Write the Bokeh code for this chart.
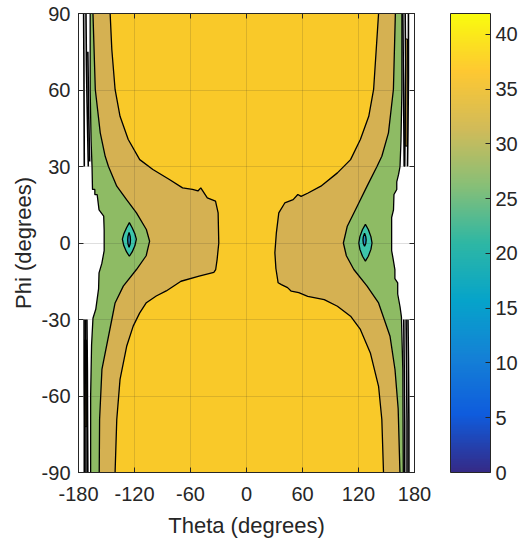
import numpy as np
from bokeh.plotting import figure
from bokeh.models import ColorBar, LinearColorMapper, LinearAxis, FixedTicker, Range1d
from bokeh.embed import file_html
from bokeh.resources import INLINE

# ---------------- data ----------------
theta_ticks = [-180, -120, -60, 0, 60, 120, 180]
phi_ticks = [-90, -60, -30, 0, 30, 60, 90]
cbar_ticks = [0, 5, 10, 15, 20, 25, 30, 35, 40]
c_low, c_high = 0.0, 41.9

# level 35 contour (yellow / tan), right branch, top -> bottom
l35_right_theta = [141.5, 139, 136.2, 131, 122, 111.5, 97.4, 79.7, 66, 58.5, 55, 50, 41, 34.6, 32, 30.4,
                   31.5, 33.9, 37.4, 44, 48, 56, 65.6, 83.3, 97.4, 111.5, 122, 132.7, 141.5, 145, 146.8]
l35_right_phi = [90, 75.9, 60.2, 49.7, 40.6, 32.7, 27.5, 22.3, 19.6, 18.3, 19.0, 17.0, 15.7, 11.8, 4, -3.8,
                 -10, -15.6, -16.3, -17.5, -18.9, -19.5, -20.9, -22.2, -24.8, -28.7, -33.9, -43.1, -56.2, -69.2, -90]
# level 35 contour, left branch, top -> bottom
l35_left_theta = [-146.1, -144.3, -140.8, -135.5, -126.7, -114.4, -100.3, -82.6, -68.5, -57.9, -52, -49, -42,
                  -33.2, -30.4, -29.7, -31.5, -33, -35, -50.8, -70.2, -86, -96.7, -107.3, -114.4, -121.4,
                  -128.4, -135.5, -139, -140.8]
l35_left_phi = [90, 75.9, 60.2, 49.7, 40.6, 32.7, 28.8, 24.9, 21.6, 21.0, 20.4, 21.6, 17.7,
                16.4, 11.8, 0, -6.5, -10.4, -11.5, -13, -15, -18.8, -20.8, -23.4, -27.4, -32.6,
                -40.5, -53.5, -69.2, -90]

# level 30 contour (tan / green)
l30_right_theta = [159.5, 157.4, 152.1, 145, 139.8, 129.2, 118.6, 108, 103.8, 107, 115, 129.2, 141.5,
                   153.8, 159.1, 162.5, 164.4]
l30_right_phi = [90, 60.2, 43.2, 34, 30, 22.3, 14.4, 6.6, 0, -5, -10.4, -16.9, -23.5,
                 -36.6, -49.6, -65, -90]
l30_left_theta = [-164.5, -162, -156.7, -151.4, -147.9, -139, -128.5, -117.9, -107.3, -103.8, -107.5,
                  -117.9, -132, -140.8, -144.3, -154.9, -157.4, -157.8]
l30_left_phi = [90, 60.2, 43.2, 34, 30, 22.3, 17, 11.8, 5.3, 0.7, -5,
                -10.4, -16.9, -23.5, -30, -49.6, -69.2, -90]

# level 25 outer edge of the data (green / blank), top -> bottom
l25_left_theta = [-167.5, -167.5, -166.5, -165.5, -165, -162.5, -162.5, -160, -158, -153, -152.5,
                  -152.5, -155, -158, -158.5, -161.5, -164.5, -166, -167, -167]
l25_left_phi = [90, 60, 40, 30, 21, 21, 19, 19, 13, 10.5, 5,
                -3, -8, -11.7, -18, -26, -29.5, -40, -60, -90]
l25_right_theta = [166.5, 166.5, 165.5, 164.5, 163, 161, 161, 158, 157.5, 155.5, 155.5, 157, 159,
                   159, 162, 162, 164.5, 166, 167.5, 168]
l25_right_phi = [90, 60, 40, 30, 27, 24, 21, 19, 13, 10, -3, -6, -10.4,
                 -14, -15.6, -20, -25, -29, -50, -90]

# islands (level 25 and level 20 contours)
isl_left_theta = [-125.5, -122.5, -119.5, -118, -119.5, -122.5, -125.5, -128.5, -131.5, -133, -131.5, -128.5]
isl_left_phi = [8, 6, 3.5, 1.5, -1, -3.5, -5.2, -3.5, -1, 1.5, 3.5, 6]
core_left_theta = [-125.8, -124.6, -124.3, -124.6, -125.8, -127, -127.3, -127]
core_left_phi = [4.1, 2.6, 1.2, -0.3, -1.7, -0.3, 1.2, 2.6]
isl_right_theta = [127.4, 130.5, 133.3, 134.5, 133.3, 130.5, 127.4, 124.3, 121.5, 120.3, 121.5, 124.3]
isl_right_phi = [7.3, 5.3, 2.5, 0, -2.5, -5.2, -7.1, -5.2, -2.5, 0, 2.5, 5.3]
core_right_theta = [126.5, 127.8, 128.2, 127.8, 126.5, 125.2, 124.8, 125.2]
core_right_phi = [3.8, 2.5, 1.2, -0.2, -1.3, -0.2, 1.2, 2.5]

# packed contour lines at the edges
edge_theta = [[-174.5, -174.2, -174, -173.8], [-172, -171.5, -170.8, -170, -169.5],
              [-170, -169.5, -169, -168.5, -168], [-174, -174, -173.8, -173.8],
              [-171, -170.5, -170.3, -170], [-172.5, -172.2, -172, -172],
              [167.5, 168, 168.5, 169], [170, 170.5, 170, 169.5], [173.5, 173.5, 173, 172.5],
              [168.5, 169, 169.5, 169.5], [171, 171.5, 172, 172], [173, 173.5, 174, 174]]
edge_phi = [[90, 70, 50, 30], [90, 70, 55, 40, 30],
            [75, 62, 50, 40, 32], [-30, -50, -70, -90],
            [-30, -50, -70, -90], [-30, -50, -70, -90],
            [90, 70, 50, 30], [90, 70, 50, 30], [90, 65, 45, 30],
            [-30, -50, -70, -90], [-30, -50, -70, -90], [-30, -45, -70, -90]]
sliver_theta = [[-173.5, -171.5, -171, -173.3], [170.5, 172.5, 172, 170]]
sliver_phi = [[-38, -38, -72, -72], [80, 80, 38, 38]]

# ---------------- styling ----------------
C_YELLOW = "#F9C929"
C_TAN = "#D5B152"
C_GREEN = "#8EBB64"
C_TEAL = "#3CC5AA"
C_CORE = "#2390C6"
AX = "#262626"
FONT = "Liberation Sans"

anchors = ['#352a87', '#0f5cdd', '#1481d6', '#06a4ca', '#2eb7a4', '#87bf77', '#d1bb59', '#fec832', '#f9fb0e']
def _rgb(h):
    return [int(h[i:i + 2], 16) for i in (1, 3, 5)]
arr = np.array([_rgb(a) for a in anchors], dtype=float)
xs = np.linspace(0, 1, len(anchors))
t = np.linspace(0, 1, 256)
parula = ["#%02x%02x%02x" % tuple(int(round(np.interp(v, xs, arr[:, k]))) for k in range(3)) for v in t]

p = figure(width=520, height=540, output_backend="svg", toolbar_location=None,
           x_range=Range1d(-180, 180), y_range=Range1d(-90, 90),
           min_border_left=78, min_border_top=13, min_border_right=100, min_border_bottom=0)
p.background_fill_color = "white"
p.outline_line_color = AX
p.outline_line_width = 1

def poly(right_t, right_p, left_t, left_p):
    return list(right_t) + list(left_t)[::-1], list(right_p) + list(left_p)[::-1]

gx, gy = poly(l25_right_theta, l25_right_phi, l25_left_theta, l25_left_phi)
p.patch(gx, gy, fill_color=C_GREEN, line_color=None)
tx, ty = poly(l30_right_theta, l30_right_phi, l30_left_theta, l30_left_phi)
p.patch(tx, ty, fill_color=C_TAN, line_color=None)
yx, yy = poly(l35_right_theta, l35_right_phi, l35_left_theta, l35_left_phi)
p.patch(yx, yy, fill_color=C_YELLOW, line_color=None)

p.patches(sliver_theta, sliver_phi, fill_color=C_TAN, line_color="black", line_width=1)
p.patches([isl_left_theta, isl_right_theta], [isl_left_phi, isl_right_phi],
          fill_color=C_TEAL, line_color="black", line_width=1.3)
p.patches([core_left_theta, core_right_theta], [core_left_phi, core_right_phi],
          fill_color=C_CORE, line_color="black", line_width=1.3)

p.multi_line([l35_right_theta, l35_left_theta, l30_right_theta, l30_left_theta,
              l25_right_theta, l25_left_theta],
             [l35_right_phi, l35_left_phi, l30_right_phi, l30_left_phi,
              l25_right_phi, l25_left_phi], line_color="black", line_width=1.3)
p.multi_line(edge_theta, edge_phi, line_color="black", line_width=1.6)

# axes
for ax in (p.xaxis[0], p.yaxis[0]):
    ax.axis_line_color = AX
    ax.major_tick_line_color = AX
    ax.major_tick_in = 5
    ax.major_tick_out = 0
    ax.minor_tick_line_color = None
    ax.major_label_text_font = FONT
    ax.major_label_text_font_size = "20px"
    ax.major_label_text_color = AX
    ax.axis_label_text_font = FONT
    ax.axis_label_text_font_size = "22px"
    ax.axis_label_text_font_style = "normal"
    ax.axis_label_text_color = AX
p.xaxis.ticker = FixedTicker(ticks=theta_ticks)
p.yaxis.ticker = FixedTicker(ticks=phi_ticks)
p.xaxis.major_label_overrides = {v: str(v) for v in theta_ticks}
p.yaxis.major_label_overrides = {v: str(v) for v in phi_ticks}
p.xaxis.axis_label = "Theta (degrees)"
p.yaxis.axis_label = "Phi (degrees)"
p.xaxis.major_label_standoff = 14
p.xaxis.axis_label_standoff = 9
p.yaxis.major_label_standoff = 8
p.yaxis.axis_label_standoff = 3

top_ax = LinearAxis(ticker=FixedTicker(ticks=theta_ticks), major_tick_in=5, major_tick_out=0,
                    major_label_text_font_size="1px", major_label_text_color=None, major_label_standoff=0,
                    minor_tick_line_color=None, axis_line_color=AX, major_tick_line_color=AX)
right_ax = LinearAxis(ticker=FixedTicker(ticks=phi_ticks), major_tick_in=5, major_tick_out=0,
                      major_label_text_font_size="1px", major_label_text_color=None, major_label_standoff=0,
                      minor_tick_line_color=None, axis_line_color=AX, major_tick_line_color=AX)
p.add_layout(top_ax, "above")
p.add_layout(right_ax, "right")

p.grid.grid_line_color = AX
p.grid.grid_line_alpha = 0.15
p.grid.level = "overlay"
p.xgrid.ticker = FixedTicker(ticks=theta_ticks)
p.ygrid.ticker = FixedTicker(ticks=phi_ticks)

mapper = LinearColorMapper(palette=parula, low=c_low, high=c_high)
cb = ColorBar(color_mapper=mapper, ticker=FixedTicker(ticks=cbar_ticks), width=40,
              padding=0, margin=0, location=(36, 0), label_standoff=5,
              major_tick_in=5, major_tick_out=0, major_tick_line_color=AX,
              minor_tick_line_color=None, bar_line_color=AX,
              major_label_text_font=FONT, major_label_text_font_size="20px",
              major_label_text_color=AX, background_fill_alpha=0, border_line_color=None)
p.add_layout(cb, "right")

open("out.html", "w").write(file_html(p, INLINE))
